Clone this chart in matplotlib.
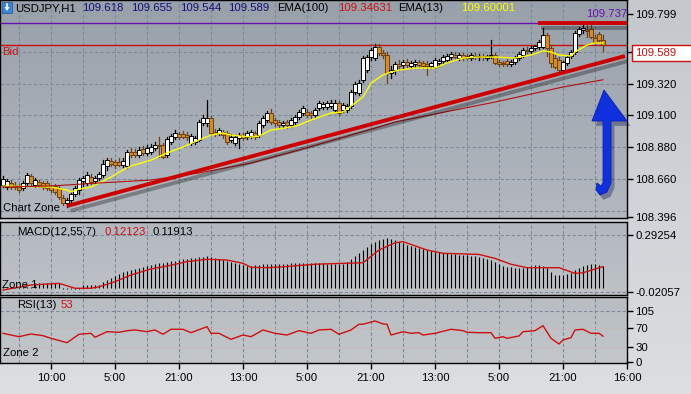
import numpy as np
import matplotlib
matplotlib.use('Agg')
import matplotlib.pyplot as plt
import matplotlib.patheffects as pe
from matplotlib.patches import Rectangle, Polygon
from matplotlib.colors import LinearSegmentedColormap

plt.rcParams['font.family'] = ['Liberation Sans', 'DejaVu Sans']
FS = 8.2

# ---- data (USDJPY H1) ----
opens = [108.619, 108.605, 108.632, 108.619, 108.605, 108.598, 108.632, 108.681, 108.619, 108.639,
         108.632, 108.632, 108.605, 108.612, 108.598, 108.529, 108.494, 108.515, 108.557, 108.584,
         108.646, 108.632, 108.674, 108.646, 108.667, 108.688, 108.750, 108.785, 108.778, 108.778,
         108.757, 108.750, 108.847, 108.847, 108.826, 108.867, 108.840, 108.847, 108.874, 108.895,
         108.895, 108.826, 108.916, 108.950, 108.971, 108.971, 108.964, 108.909, 108.916, 108.930,
         109.047, 109.047, 109.082, 108.985, 108.978, 108.985, 108.978, 108.930, 108.909, 108.943,
         108.957, 108.950, 108.957, 108.978, 108.964, 109.033, 109.068, 109.116, 109.068, 109.054,
         109.033, 109.054, 109.033, 109.054, 109.089, 109.116, 109.123, 109.116, 109.102, 109.151,
         109.158, 109.158, 109.165, 109.137, 109.185, 109.137, 109.137, 109.165, 109.261, 109.254,
         109.344, 109.413, 109.503, 109.496, 109.572, 109.531, 109.517, 109.393, 109.413, 109.455,
         109.448, 109.469, 109.441, 109.455, 109.469, 109.462, 109.455, 109.441, 109.434, 109.462,
         109.476, 109.482, 109.503, 109.517, 109.496, 109.517, 109.510, 109.496, 109.510, 109.503,
         109.510, 109.496, 109.510, 109.517, 109.469, 109.462, 109.476, 109.455, 109.469, 109.496,
         109.517, 109.552, 109.545, 109.565, 109.572, 109.572, 109.655, 109.565, 109.496, 109.482,
         109.413, 109.462, 109.510, 109.538, 109.662, 109.690, 109.690, 109.697, 109.634, 109.662,
         109.618]
highs = [108.681, 108.660, 108.653, 108.639, 108.626, 108.646, 108.702, 108.695, 108.667, 108.653,
         108.646, 108.646, 108.619, 108.626, 108.612, 108.550, 108.529, 108.570, 108.612, 108.667,
         108.681, 108.708, 108.695, 108.681, 108.708, 108.791, 108.805, 108.805, 108.791, 108.805,
         108.805, 108.861, 108.874, 108.867, 108.881, 108.888, 108.895, 108.902, 108.916, 108.950,
         108.909, 108.950, 108.971, 108.999, 108.985, 108.992, 108.985, 108.971, 108.957, 109.068,
         109.102, 109.206, 109.095, 109.006, 109.012, 108.999, 108.992, 108.971, 108.964, 108.978,
         108.978, 108.992, 108.999, 108.992, 109.061, 109.095, 109.130, 109.144, 109.082, 109.068,
         109.061, 109.068, 109.082, 109.102, 109.137, 109.165, 109.144, 109.130, 109.151, 109.199,
         109.192, 109.199, 109.206, 109.206, 109.199, 109.185, 109.178, 109.275, 109.330, 109.344,
         109.510, 109.517, 109.565, 109.593, 109.593, 109.552, 109.538, 109.441, 109.469, 109.482,
         109.482, 109.489, 109.476, 109.482, 109.482, 109.476, 109.476, 109.469, 109.496, 109.489,
         109.517, 109.524, 109.538, 109.538, 109.531, 109.531, 109.524, 109.531, 109.531, 109.524,
         109.524, 109.517, 109.621, 109.531, 109.482, 109.476, 109.489, 109.482, 109.510, 109.538,
         109.565, 109.572, 109.579, 109.586, 109.621, 109.704, 109.669, 109.586, 109.517, 109.503,
         109.476, 109.517, 109.552, 109.683, 109.710, 109.731, 109.731, 109.724, 109.655, 109.676,
         109.655]
lows = [108.605, 108.591, 108.591, 108.591, 108.570, 108.584, 108.619, 108.619, 108.605, 108.605,
        108.591, 108.584, 108.570, 108.557, 108.522, 108.480, 108.467, 108.494, 108.543, 108.557,
        108.612, 108.619, 108.626, 108.626, 108.653, 108.674, 108.722, 108.750, 108.736, 108.750,
        108.743, 108.736, 108.812, 108.812, 108.812, 108.826, 108.826, 108.833, 108.861, 108.812,
        108.805, 108.812, 108.902, 108.937, 108.937, 108.943, 108.930, 108.895, 108.902, 108.923,
        109.033, 109.026, 108.964, 108.957, 108.964, 108.943, 108.902, 108.916, 108.895, 108.874,
        108.930, 108.937, 108.943, 108.937, 108.950, 109.019, 109.054, 109.040, 109.026, 109.012,
        109.019, 109.012, 109.019, 109.040, 109.075, 109.102, 109.089, 109.082, 109.089, 109.137,
        109.144, 109.144, 109.151, 109.123, 109.102, 109.123, 109.123, 109.151, 109.247, 109.241,
        109.330, 109.399, 109.482, 109.482, 109.517, 109.496, 109.324, 109.358, 109.386, 109.413,
        109.427, 109.434, 109.427, 109.434, 109.434, 109.427, 109.379, 109.427, 109.427, 109.441,
        109.462, 109.469, 109.489, 109.496, 109.482, 109.482, 109.489, 109.482, 109.489, 109.482,
        109.482, 109.482, 109.496, 109.455, 109.441, 109.441, 109.441, 109.441, 109.455, 109.482,
        109.503, 109.531, 109.531, 109.552, 109.558, 109.565, 109.510, 109.434, 109.427, 109.399,
        109.399, 109.448, 109.496, 109.524, 109.648, 109.669, 109.641, 109.634, 109.586, 109.607,
        109.544]
closes = [108.660, 108.646, 108.605, 108.605, 108.584, 108.632, 108.688, 108.632, 108.653, 108.619,
          108.605, 108.598, 108.584, 108.570, 108.536, 108.494, 108.515, 108.557, 108.598, 108.653,
          108.667, 108.688, 108.639, 108.667, 108.695, 108.764, 108.791, 108.764, 108.757, 108.757,
          108.785, 108.847, 108.826, 108.826, 108.861, 108.840, 108.874, 108.881, 108.895, 108.888,
          108.812, 108.937, 108.957, 108.978, 108.950, 108.950, 108.950, 108.957, 108.943, 109.054,
          109.082, 109.082, 108.978, 108.971, 108.999, 108.964, 108.916, 108.950, 108.950, 108.964,
          108.943, 108.978, 108.985, 108.950, 109.047, 109.082, 109.116, 109.054, 109.047, 109.033,
          109.047, 109.033, 109.068, 109.089, 109.123, 109.151, 109.102, 109.102, 109.137, 109.185,
          109.178, 109.185, 109.185, 109.185, 109.116, 109.171, 109.165, 109.261, 109.317, 109.324,
          109.496, 109.503, 109.552, 109.572, 109.531, 109.517, 109.393, 109.413, 109.455, 109.441,
          109.469, 109.448, 109.462, 109.469, 109.448, 109.441, 109.441, 109.462, 109.482, 109.476,
          109.503, 109.510, 109.524, 109.503, 109.517, 109.496, 109.496, 109.517, 109.503, 109.510,
          109.503, 109.510, 109.517, 109.462, 109.455, 109.455, 109.455, 109.469, 109.496, 109.524,
          109.552, 109.545, 109.565, 109.579, 109.607, 109.655, 109.565, 109.462, 109.434, 109.413,
          109.469, 109.503, 109.538, 109.669, 109.697, 109.704, 109.683, 109.641, 109.607, 109.621,
          109.589]

ema13_bar = [0, 12, 16, 17, 19, 22, 24, 27, 29, 32, 37, 41, 45, 49, 52, 55, 57, 62, 64, 67, 72,
             74, 77, 82, 85, 88, 90, 92, 95, 97, 99, 103, 108, 111, 115, 119, 123, 128, 132,
             135, 137, 139, 142, 143, 146, 148, 150]
ema13 = [108.612, 108.605, 108.584, 108.570, 108.591, 108.605, 108.632, 108.674, 108.708,
         108.750, 108.791, 108.840, 108.881, 108.930, 108.964, 108.978, 108.964, 108.950,
         108.957, 108.999, 109.019, 109.033, 109.068, 109.116, 109.123, 109.185, 109.227,
         109.323, 109.379, 109.399, 109.413, 109.427, 109.427, 109.462, 109.496, 109.503,
         109.503, 109.496, 109.517, 109.545, 109.538, 109.517, 109.510, 109.538, 109.586,
         109.600, 109.600]

ema100_bar = [0, 12, 24, 37, 49, 62, 74, 87, 94, 98, 113, 123, 140, 150]
ema100 = [108.605, 108.612, 108.633, 108.653, 108.702, 108.771, 108.861, 108.964, 109.020,
          109.054, 109.137, 109.192, 109.296, 109.346]

macd_main = [0.007, 0.007, 0.007, 0.007, 0.007, 0.007, 0.007, 0.007, 0.029, 0.029,
             0.029, 0.029, 0.029, 0.029, 0.029, -0.004, -0.004, -0.004, -0.004, -0.004,
             0.018, 0.018, 0.018, 0.018, 0.018, 0.034, 0.045, 0.056, 0.067, 0.078,
             0.089, 0.095, 0.100, 0.106, 0.111, 0.117, 0.122, 0.128, 0.133, 0.139,
             0.139, 0.144, 0.150, 0.150, 0.155, 0.161, 0.161, 0.166, 0.166, 0.172,
             0.172, 0.177, 0.172, 0.166, 0.161, 0.155, 0.150, 0.144, 0.139, 0.133,
             0.128, 0.122, 0.122, 0.128, 0.128, 0.133, 0.133, 0.133, 0.133, 0.133,
             0.133, 0.133, 0.139, 0.139, 0.139, 0.139, 0.139, 0.139, 0.139, 0.139,
             0.139, 0.133, 0.133, 0.133, 0.133, 0.133, 0.144, 0.161, 0.177, 0.194,
             0.210, 0.227, 0.243, 0.254, 0.265, 0.271, 0.276, 0.271, 0.265, 0.254,
             0.249, 0.238, 0.232, 0.227, 0.221, 0.216, 0.210, 0.205, 0.199, 0.199,
             0.194, 0.194, 0.188, 0.188, 0.183, 0.183, 0.183, 0.177, 0.177, 0.172,
             0.166, 0.161, 0.155, 0.144, 0.133, 0.122, 0.117, 0.117, 0.111, 0.111,
             0.111, 0.117, 0.122, 0.128, 0.128, 0.122, 0.111, 0.089, 0.073, 0.073,
             0.073, 0.078, 0.084, 0.100, 0.111, 0.122, 0.128, 0.133, 0.133, 0.128,
             0.121]

signal_bar = [0, 7, 14, 18, 22, 24, 28, 32, 37, 41, 46, 51, 56, 60, 62, 66, 70, 78, 85,
              90, 94, 98, 100, 106, 110, 119, 123, 127, 131, 139, 143, 145, 150]
signal = [-0.010, 0.018, 0.027, 0.000, 0.000, 0.008, 0.036, 0.073, 0.106, 0.122, 0.146,
          0.159, 0.155, 0.137, 0.115, 0.113, 0.118, 0.132, 0.137, 0.140, 0.210, 0.250,
          0.256, 0.210, 0.192, 0.186, 0.164, 0.132, 0.113, 0.113, 0.082, 0.085, 0.119]

rsi_bar = [0, 4, 7, 10, 12, 16, 19, 22, 23, 26, 29, 31, 33, 36, 38, 40, 42, 45, 47, 51,
           52, 54, 57, 60, 62, 65, 68, 71, 74, 77, 79, 82, 84, 87, 89, 90, 93, 95, 96, 97,
           100, 102, 104, 105, 108, 112, 115, 116, 119, 122, 123, 125, 126, 129, 130, 133,
           135, 137, 139, 140, 142, 143, 145, 147, 149, 150]
rsi = [58.9, 51.9, 57.5, 54.0, 48.6, 39.5, 56.9, 58.9, 50.7, 62.3, 61.0, 64.3, 65.8, 62.3,
       65.8, 56.9, 67.2, 67.2, 60.2, 72.6, 58.9, 58.9, 46.5, 55.4, 51.9, 65.8, 58.9, 55.4,
       64.4, 58.9, 65.8, 67.2, 56.9, 65.8, 77.6, 77.6, 84.4, 78.2, 77.6, 55.4, 62.3, 58.9,
       60.2, 55.4, 58.9, 67.2, 64.4, 61.0, 60.2, 60.2, 48.6, 51.9, 48.6, 53.4, 62.3, 64.4,
       74.7, 48.6, 36.8, 45.1, 49.9, 65.8, 67.2, 58.9, 58.9, 53.0]

time_pos = [12, 28, 44, 60, 76, 92, 108, 124, 140, 156]
time_labels = ['10:00', '5:00', '21:00', '13:00', '5:00', '21:00', '13:00', '5:00', '21:00', '16:00']
grid_bars = list(range(4, 156, 8))

price_ticks = [109.799, 109.320, 109.100, 108.880, 108.660, 108.396]
price_grid = [109.540, 109.320, 109.100, 108.880, 108.660, 108.440]
bid = 109.589
hline_level = 109.737
trend_bars = [16, 155.5]
trend_prices = [108.474, 109.510]

GRID = '#7D8998'
GRID_LS = (0, (3, 2))

# ---- figure ----
W, H = 691, 394
fig = plt.figure(figsize=(W / 100, H / 100), dpi=100)

bg = fig.add_axes([0, 0, 1, 1], zorder=-10)
bg.imshow(np.linspace(0, 1, 100).reshape(-1, 1),
          cmap=LinearSegmentedColormap.from_list('bg', ['#C4C8CD', '#DCDEE1']),
          aspect='auto', extent=[0, 1, 0, 1])
bg.axis('off')


def px_axes(x0, y0, x1, y1, top, bottom):
    ax = fig.add_axes([x0 / W, 1 - y1 / H, (x1 - x0) / W, (y1 - y0) / H])
    cm = LinearSegmentedColormap.from_list('p', [top, bottom])
    ax.imshow(np.linspace(0, 1, 100).reshape(-1, 1), cmap=cm, aspect='auto',
              extent=[0, 1, 0, 1], transform=ax.transAxes, zorder=0)
    for s in ax.spines.values():
        s.set_color('black')
        s.set_linewidth(1)
    ax.set_xlim(-0.75, 156)
    ax.tick_params(axis='y', left=False, labelleft=False, right=True, labelright=True,
                   direction='out', length=4, width=1, pad=2, labelsize=FS)
    ax.tick_params(axis='x', bottom=False, labelbottom=False)
    for g in grid_bars:
        ax.axvline(g, color=GRID, lw=0.8, ls=GRID_LS, zorder=1)
    return ax


ax = px_axes(0, 0, 627, 218, '#98A0AA', '#B3B8BF')
ax1 = px_axes(0, 222, 627, 295, '#B3B8BF', '#BEC2C7')
ax2 = px_axes(0, 297, 627, 363, '#B8BDC3', '#C3C7CB')

# main chart
ax.set_ylim(108.391, 109.897)
ax.set_yticks(price_ticks)
ax.set_yticklabels([f'{p:.3f}' for p in price_ticks])
ax.set_yticks([109.540], minor=True)
ax.tick_params(axis='y', which='minor', right=True, length=4, width=1, direction='out')
for g in price_grid:
    ax.axhline(g, color=GRID, lw=0.8, ls=GRID_LS, zorder=1)

x = np.arange(len(closes))
for i in x:
    o, h, l, c = opens[i], highs[i], lows[i], closes[i]
    up = c >= o
    edge = 'black' if up else '#6E4210'
    ax.plot([i, i], [l, h], color=edge, lw=0.9, zorder=3)
    body = max(abs(c - o), 0.003)
    ax.add_patch(Rectangle((i - 0.38, min(o, c)), 0.76, body,
                           facecolor='white' if up else '#D58C22',
                           edgecolor=edge, lw=0.7, zorder=4))

ax.plot(ema13_bar, ema13, color='#FFFF00', lw=1, zorder=5)
ax.plot(ema100_bar, ema100, color='#B01010', lw=0.8, zorder=5)
ax.axhline(bid, color='#CC1010', lw=1, zorder=2)
ax.axhline(hline_level, color='#6A10B0', lw=1, zorder=2)

shadow = [pe.SimpleLineShadow(offset=(2.5, -3.5), alpha=0.3), pe.Normal()]
ax.plot(trend_bars, trend_prices, color='#CC0000', lw=2.8, zorder=6, solid_capstyle='butt',
        path_effects=shadow)
ax.plot([133.75, 156], [hline_level, hline_level], color='#CC0000', lw=2.8, zorder=6,
        solid_capstyle='butt', path_effects=shadow)

# MACD
ax1.set_ylim(-0.037, 0.364)
ax1.set_yticks([0.29254, -0.02057])
ax1.set_yticklabels(['0.29254', '-0.02057'])
for g in [0.29254, -0.02057]:
    ax1.axhline(g, color=GRID, lw=0.8, ls=GRID_LS, zorder=1)
ax1.vlines(x, 0, macd_main, color='black', lw=0.8, zorder=3)
ax1.plot(signal_bar, signal, color='#CC1010', lw=1, zorder=4)

# RSI
ax2.set_ylim(-2.5, 134)
ax2.set_yticks([105, 70, 30, 0])
ax2.set_yticklabels(['105', '70', '30', '0'])
ax2.axhline(105, color=GRID, lw=0.8, ls=GRID_LS, zorder=1)
for g in [70, 30]:
    ax2.axhline(g, color='#C8B8B8', lw=0.6, zorder=1)
ax2.plot(rsi_bar, rsi, color='#CC1010', lw=1, zorder=4)
ax2.set_xticks(time_pos)
ax2.set_xticklabels(time_labels)
ax2.tick_params(axis='x', bottom=True, labelbottom=True, direction='out', length=4, width=1,
                pad=3, labelsize=FS)

# overlay in pixel coordinates for labels and drawings
ov = fig.add_axes([0, 0, 1, 1], zorder=20)
ov.set_xlim(0, W)
ov.set_ylim(H, 0)
ov.axis('off')


def txt(px, py, s, color='black', **kw):
    ov.text(px, py, s, color=color, fontsize=FS, va='center', ha='left', **kw)


# header
ov.add_patch(Rectangle((2, 2), 10, 11, facecolor='#3C86D8', edgecolor='#2A5FA0', lw=0.6))
ov.add_patch(Polygon([(4.5, 7), (9.5, 7), (7, 11)], closed=True, facecolor='white',
                     edgecolor='none'))
ov.plot([7, 7], [4, 8], color='white', lw=1.2)
txt(15, 8, 'USDJPY,H1')
for px, s in zip([82, 131, 180, 228], ['109.618', '109.655', '109.544', '109.589']):
    txt(px, 8, s, color='#10107A')
txt(277, 8, 'EMA(100)')
txt(338, 8, '109.34631', color='#CC1010')
txt(398, 8, 'EMA(13)')
txt(461, 8, '109.60001', color='#FFFF00')
txt(586, 14, '109.737', color='#6A10B0')
txt(2, 52, 'Bid', color='#CC1010')
txt(3, 208, 'Chart Zone')
txt(17, 232, 'MACD(12,55,7)')
txt(105, 232, '0.12123', color='#CC1010')
txt(153, 232, '0.11913')
txt(2, 285, 'Zone 1')
txt(17, 305, 'RSI(13)')
txt(61, 305, '53', color='#CC1010')
txt(3, 353, 'Zone 2')

# bid price box
ov.add_patch(Rectangle((632, 45), 60, 16, facecolor='white', edgecolor='#CC1010', lw=1))
txt(635, 53, '109.589', color='#CC1010')

# blue arrow
arrow = [(604, 90), (627, 121), (611, 121), (611, 183), (607, 192), (600, 195), (596, 190),
         (597, 183), (601, 186), (603, 183), (603, 121), (592, 121)]
ov.add_patch(Polygon(arrow, closed=True, facecolor='#1030E0', edgecolor='#0A20B0', lw=0.6,
                     path_effects=[pe.SimplePatchShadow(offset=(2.5, -3.5), alpha=0.35),
                                   pe.Normal()]))

fig.savefig('out.png', dpi=100)
